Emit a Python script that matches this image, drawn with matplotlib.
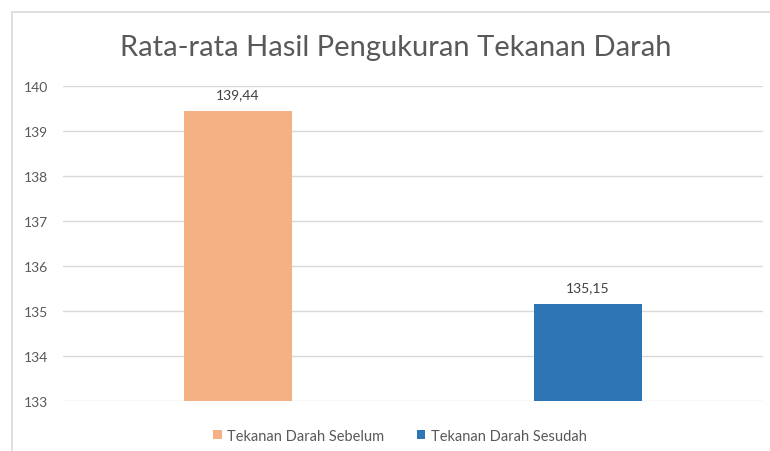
import matplotlib.pyplot as plt
from matplotlib.patches import Rectangle, Patch

categories = ["Tekanan Darah Sebelum", "Tekanan Darah Sesudah"]
values = [139.44, 135.15]
colors = ["#F4B183", "#2E75B6"]
yticks = [133, 134, 135, 136, 137, 138, 139, 140]

plt.rcParams["font.family"] = ["Lato", "DejaVu Sans"]
text_color = "#595959"

fig = plt.figure(figsize=(7.7, 4.52), dpi=100)
ax = fig.add_axes([63/770, 1 - 402/452, 700/770, 315/452])

# chart border (cropped picture: only left and top visible)
fig.add_artist(Rectangle((12/770, -0.1), 1.2, (452 - 13)/452 + 0.1,
                         transform=fig.transFigure, fill=False,
                         edgecolor="#D9D9D9", linewidth=1.2))

x = range(len(values))
bars = ax.bar(x, values, width=0.31, color=colors, zorder=3)
ax.set_xlim(-0.5, 1.5)
ax.set_ylim(133, 140)
ax.set_yticks(yticks)
ax.set_yticklabels([str(t) for t in yticks], color=text_color, fontsize=10)
ax.set_xticks([])
ax.tick_params(axis="y", length=0, pad=11)
ax.grid(axis="y", color="#D9D9D9", linewidth=1, zorder=0)
for s in ax.spines.values():
    s.set_visible(False)

for b, v in zip(bars, values):
    ax.annotate(f"{v:.2f}".replace(".", ","),
                (b.get_x() + b.get_width() / 2, v),
                xytext=(0, 8), textcoords="offset points",
                ha="center", va="bottom", color="#404040", fontsize=10)

fig.text(396/770, 1 - 48/452, "Rata-rata Hasil Pengukuran Tekanan Darah",
         ha="center", va="center", fontsize=21, color=text_color)

handles = [Patch(facecolor=c, label=l) for c, l in zip(colors, categories)]
fig.legend(handles=handles, loc="center", bbox_to_anchor=(400/770, 1 - 437/452),
           ncol=2, frameon=False, fontsize=10.5, labelcolor=text_color,
           handlelength=0.6, handleheight=0.6, handletextpad=0.4,
           columnspacing=2.2)

fig.savefig("out.png", dpi=100)
